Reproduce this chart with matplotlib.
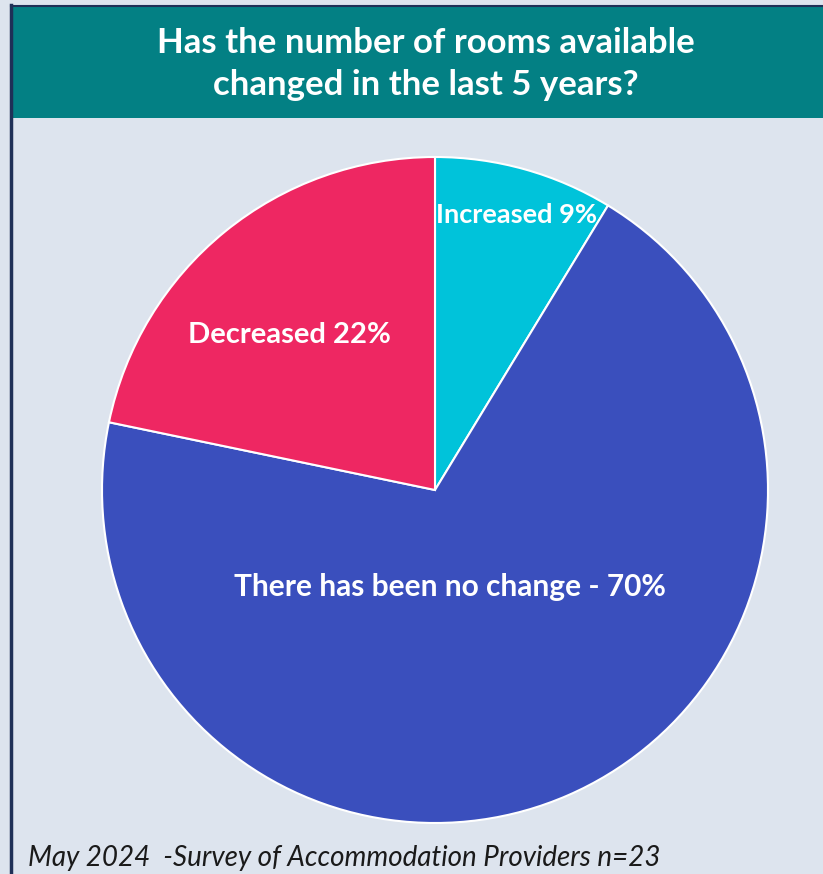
import matplotlib.pyplot as plt
from matplotlib.patches import Rectangle
from matplotlib.lines import Line2D

plt.rcParams['font.family'] = ['Lato', 'DejaVu Sans']

# survey responses (n=23)
labels = ['Increased 9%', 'There has been no change - 70%', 'Decreased 22%']
counts = [2, 16, 5]
colors = ['#00c3da', '#3a4fbd', '#ee2762']
title = 'Has the number of rooms available\nchanged in the last 5 years?'
footer = 'May 2024  -Survey of Accommodation Providers n=23'

W, H = 823, 874
fig = plt.figure(figsize=(W / 100, H / 100), dpi=100)
fig.patch.set_facecolor('#dde4ee')

# title banner
fig.patches.append(Rectangle((11 / W, 1 - 118 / H), 1 - 11 / W, 112 / H,
                             transform=fig.transFigure, facecolor='#038084',
                             edgecolor='none', zorder=0))
fig.lines.append(Line2D([11 / W, 1], [1 - 5.5 / H] * 2, transform=fig.transFigure,
                        color='#1f3057', lw=1.5))
fig.lines.append(Line2D([11 / W] * 2, [0, 1 - 5 / H], transform=fig.transFigure,
                        color='#1f3057', lw=2.5))
fig.text(426 / W, 1 - 64 / H, title, ha='center', va='center', color='white',
         fontsize=25, fontweight='bold', linespacing=1.35)

# pie
cx, cy, r = 435, 490, 333
ax = fig.add_axes([(cx - r) / W, 1 - (cy + r) / H, 2 * r / W, 2 * r / H])
ax.pie(counts, colors=colors, startangle=90, counterclock=False, radius=1,
       wedgeprops=dict(edgecolor='white', linewidth=1.5))
ax.set_xlim(-1, 1)
ax.set_ylim(-1, 1)
ax.axis('off')

label_pos = [(517, 215), (450, 587), (289, 335)]
label_size = [19.5, 21.5, 21]
for lab, (px, py), fs in zip(labels, label_pos, label_size):
    ax.text((px - cx) / r, (cy - py) / r, lab, ha='center', va='center',
            color='white', fontsize=fs, fontweight='bold')

fig.text(28 / W, 1 - 858 / H, footer, ha='left', va='center', color='#1a1a1a',
         fontsize=20, style='italic')

fig.savefig('out.png', dpi=100, facecolor=fig.get_facecolor())
